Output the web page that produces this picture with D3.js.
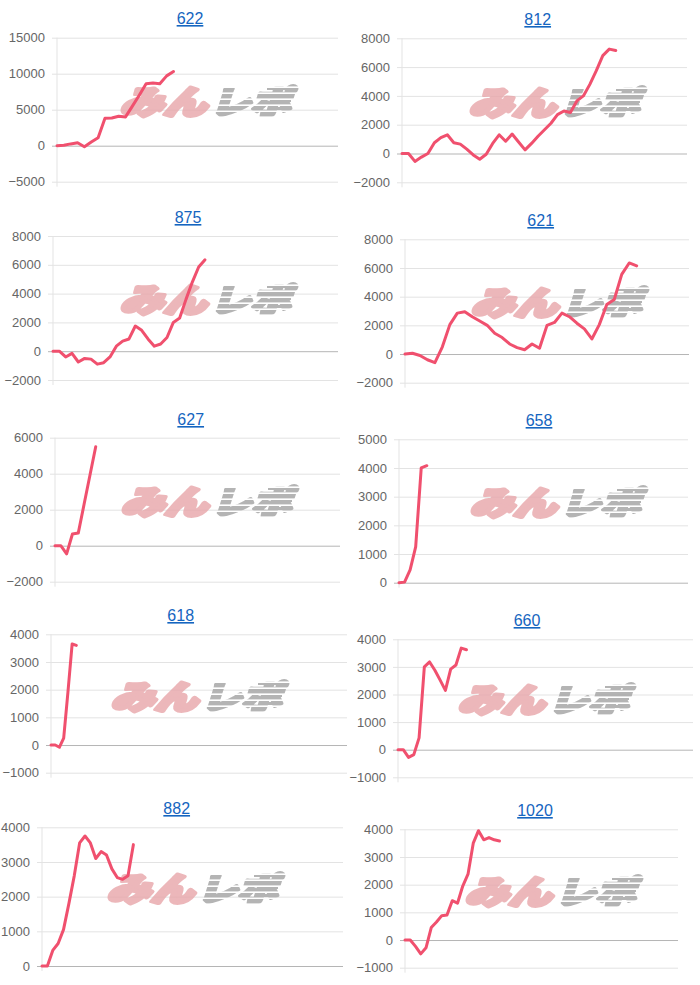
<!DOCTYPE html>
<html>
<head>
<meta charset="utf-8">
<script src="https://cdn.jsdelivr.net/npm/d3@7"></script>
<style>
  html, body { margin: 0; padding: 0; background: #fff; }
  svg { display: block; }
</style>
</head>
<body>
<div id="chart"></div>
<script>
// machine titles
const titles = ['622', '812', '875', '621', '627', '658', '618', '660', '882', '1020'];

// cumulative values per machine (one point per game slot)
const s622 = [0, 50, 250, 400, -150, 500, 1100, 3800, 3850, 4100, 4000, 5500, 7000, 8600, 8700, 8600, 9700, 10300];
const s812 = [0, 0, -550, -250, 0, 750, 1100, 1300, 750, 650, 300, -100, -400, -50, 700, 1300, 850, 1350, 800, 250,
  700, 1200, 1650, 2100, 2700, 2950, 2850, 3650, 4000, 4800, 5750, 6800, 7250, 7150];
const s875 = [0, 0, -400, -150, -750, -500, -550, -900, -800, -400, 350, 700, 850, 1750, 1450, 850, 350, 500, 950, 2000,
  2300, 3600, 4800, 5850, 6350];
const s621 = [0, 50, -100, -400, -600, 500, 2050, 2850, 2950, 2600, 2300, 2000, 1450, 1150, 700, 450, 300, 700, 400, 2000,
  2200, 2850, 2600, 2150, 1750, 1050, 2050, 3450, 3800, 5550, 6350, 6150];
const s627 = [0, 0, -450, 650, 700, 2300, 3900, 5500];
const s658 = [0, 20, 450, 1250, 4000, 4080];
const s618 = [0, 0, -80, 250, 1900, 3650, 3600];
const s660 = [0, 0, -280, -180, 430, 3000, 3180, 2880, 2520, 2150, 2920, 3070, 3680, 3620];
const s882 = [0, 0, 450, 650, 1050, 1800, 2600, 3550, 3750, 3550, 3100, 3300, 3200, 2800, 2550, 2500, 2600, 3500];
const s1020 = [0, 0, -230, -500, -280, 450, 650, 880, 900, 1420, 1330, 1950, 2380, 3500, 3950, 3620, 3700, 3620, 3580];

const seriesList = [s622, s812, s875, s621, s627, s658, s618, s660, s882, s1020];

// number of slots on each x axis (last index)
const xSpans = [41, 44, 45, 38, 49, 52, 70, 56, 56, 52];

// y axis ranges and tick steps
const yMins  = [-5000, -2000, -2000, -2000, -2000, 0, -1000, -1000, 0, -1000];
const yMaxs  = [15000, 8000, 8000, 8000, 6000, 5000, 4000, 4000, 4000, 4000];
const ySteps = [5000, 2000, 2000, 2000, 2000, 1000, 1000, 1000, 1000, 1000];

// panel layout: plot box, title position, watermark centre
const panels = [
  { l: 57,  r: 338, t: 37.7,  b: 181.7, tx: 190,   ty: 24,  wx: 207, wy: 100 },
  { l: 402, r: 687, t: 38.3,  b: 182.3, tx: 537.7, ty: 25,  wx: 556, wy: 101 },
  { l: 53,  r: 338, t: 236,   b: 380,   tx: 188,   ty: 223, wx: 207, wy: 298 },
  { l: 405, r: 689, t: 239.3, b: 382.7, tx: 540.7, ty: 226, wx: 558, wy: 301 },
  { l: 55,  r: 340, t: 437.7, b: 581.7, tx: 190.7, ty: 425, wx: 208, wy: 500 },
  { l: 399, r: 688, t: 439.3, b: 582.7, tx: 539,   ty: 426, wx: 557, wy: 501 },
  { l: 51,  r: 347, t: 634.3, b: 772.7, tx: 180.7, ty: 621, wx: 198, wy: 695 },
  { l: 398, r: 693, t: 639.3, b: 777.3, tx: 527,   ty: 626, wx: 545, wy: 698 },
  { l: 42,  r: 343, t: 827.3, b: 966,   tx: 176.7, ty: 814, wx: 194, wy: 887 },
  { l: 405, r: 678, t: 829.3, b: 967.7, tx: 535,   ty: 816, wx: 552, wy: 890 }
];

const svg = d3.select('#chart')
  .append('svg')
    .attr('width', 700)
    .attr('height', 985);

svg.append('rect')
    .attr('width', 700)
    .attr('height', 985)
    .attr('fill', '#fff');

// stripe mask for the grey half of the logo
const defs = svg.append('defs');
const pat = defs.append('pattern')
    .attr('id', 'stripes')
    .attr('patternUnits', 'userSpaceOnUse')
    .attr('width', 8)
    .attr('height', 6);
pat.append('rect').attr('width', 8).attr('height', 6).attr('fill', '#000');
pat.append('rect').attr('width', 8).attr('height', 4.4).attr('fill', '#fff');
defs.append('mask')
    .attr('id', 'stripeMask')
    .attr('maskUnits', 'userSpaceOnUse')
    .attr('x', -200).attr('y', -200).attr('width', 400).attr('height', 400)
  .append('rect')
    .attr('x', -200).attr('y', -200).attr('width', 400).attr('height', 400)
    .attr('fill', 'url(#stripes)');

function drawLogo(g) {
  const pink = g.append('g').attr('opacity', 0.8);
  pink.append('text')
      .attr('transform', 'translate(-87,14) scale(1.2,0.9) skewX(-14)')
      .attr('font-family', '"Noto Sans CJK JP", sans-serif')
      .attr('font-weight', 900)
      .attr('font-size', 36)
      .attr('fill', '#e8a6aa')
      .attr('stroke', '#e8a6aa')
      .attr('stroke-width', 4.5)
      .attr('stroke-linejoin', 'round')
      .text('みん');
  const grey = g.append('g')
      .attr('opacity', 0.85)
      .attr('mask', 'url(#stripeMask)');
  grey.append('text')
      .attr('transform', 'translate(3,14) scale(1.12,0.9) skewX(-14)')
      .attr('font-family', '"Noto Sans CJK JP", sans-serif')
      .attr('font-weight', 900)
      .attr('font-size', 36)
      .attr('fill', '#a8a8a8')
      .attr('stroke', '#a8a8a8')
      .attr('stroke-width', 3.5)
      .attr('stroke-linejoin', 'round')
      .text('レポ');
  // speed lines
  [[-13, 24], [-1, 18], [7, 22]].forEach(([y, w]) => {
    grey.append('rect')
        .attr('x', 84 - w)
        .attr('y', y)
        .attr('width', w)
        .attr('height', 3)
        .attr('fill', '#a8a8a8');
  });
}

seriesList.forEach((values, k) => {
  const p = panels[k];
  const g = svg.append('g');

  const x = d3.scaleLinear()
      .domain([0, xSpans[k]])
      .range([p.l, p.r]);
  const y = d3.scaleLinear()
      .domain([yMins[k], yMaxs[k]])
      .range([p.b, p.t]);

  const ticks = d3.range(yMins[k], yMaxs[k] + ySteps[k] / 2, ySteps[k]);

  // gridlines + labels via axis
  const axis = g.append('g')
      .attr('transform', `translate(${p.r},0)`)
      .call(d3.axisLeft(y)
        .tickValues(ticks)
        .tickSize(p.r - p.l + 5)
        .tickPadding(7)
        .tickFormat(d3.format('d')));
  axis.select('.domain').remove();
  axis.selectAll('.tick line')
      .attr('stroke', d => d === 0 ? '#b5b5b5' : '#e3e3e3')
      .attr('stroke-width', 1);
  axis.selectAll('.tick text')
      .attr('fill', '#666')
      .attr('font-size', 13)
      .attr('font-family', '"Liberation Sans", Arial, sans-serif');

  // left axis line
  g.append('line')
      .attr('x1', p.l).attr('x2', p.l)
      .attr('y1', p.t).attr('y2', p.b + 5)
      .attr('stroke', '#e3e3e3');

  // title
  g.append('text')
      .attr('x', p.tx)
      .attr('y', p.ty)
      .attr('text-anchor', 'middle')
      .attr('font-size', 16)
      .attr('font-family', '"Liberation Sans", Arial, sans-serif')
      .attr('fill', '#1565c0')
      .attr('text-decoration', 'underline')
      .text(titles[k]);

  drawLogo(g.append('g').attr('transform', `translate(${p.wx},${p.wy})`));

  const line = d3.line()
      .x((d, i) => x(i))
      .y(d => y(d));

  g.append('path')
      .datum(values)
      .attr('d', line)
      .attr('fill', 'none')
      .attr('stroke', '#f0506e')
      .attr('stroke-width', 3)
      .attr('stroke-linejoin', 'round')
      .attr('stroke-linecap', 'round');
});
</script>
</body>
</html>
